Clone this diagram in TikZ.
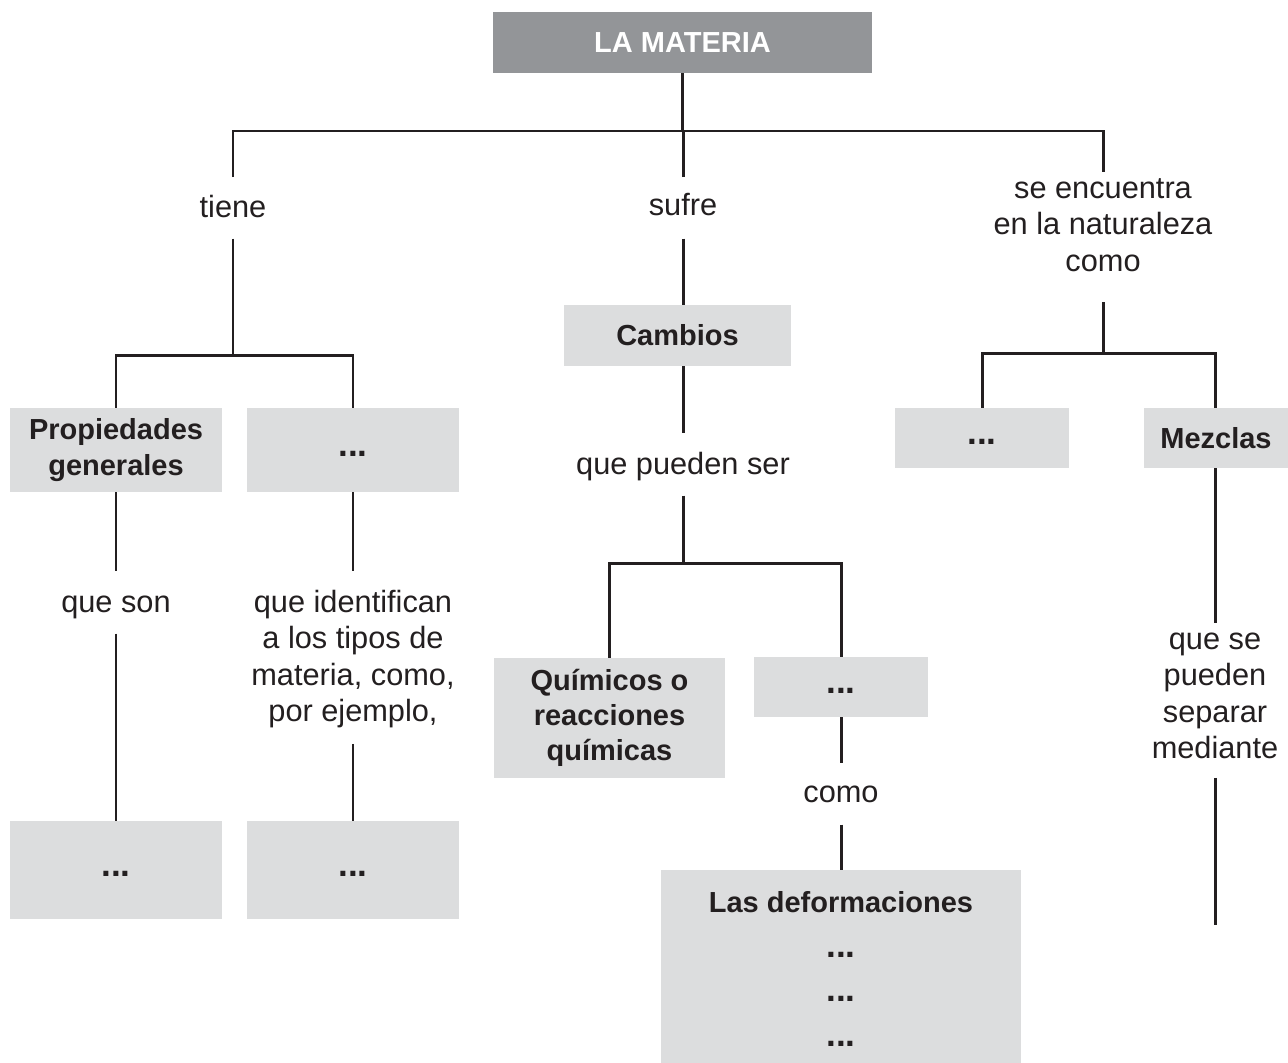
\documentclass[tikz,border=0pt]{standalone}
\usepackage{fontspec}
\setmainfont{Liberation Sans}
\usepackage{tikz}
\usetikzlibrary{positioning, calc}

\definecolor{topgray}{HTML}{939598}
\definecolor{boxgray}{HTML}{DCDDDE}
\definecolor{ink}{HTML}{231F20}

% struts that fix the gap between a label and its lines
\newcommand{\gapup}[1]{\rule{0pt}{#1}}
\newcommand{\gapdn}[1]{\rule[-#1]{0pt}{#1}}
% the blank to fill in
\newcommand{\moredots}{\vphantom{Ag}{\fontsize{20pt}{20pt}\selectfont...}}

\begin{document}
\begin{tikzpicture}[
                x=0.02cm, y=-0.02cm,
                title/.style={fill=topgray, text=white, inner sep=0pt,
                    font=\fontsize{16.5pt}{20pt}\selectfont\bfseries},
                box/.style={fill=boxgray, text=ink, inner sep=0pt, align=center,
                    font=\fontsize{16.5pt}{20pt}\selectfont\bfseries},
                lbl/.style={text=ink, inner sep=0pt, align=center, anchor=north,
                    font=\fontsize{17.5pt}{20.7pt}\selectfont},
                link/.style={draw=ink, line width=1.7pt},
            ]

                \useasboundingbox[fill=white] (0,0) rectangle (1288,1062);

                % Top
                \node[title, minimum width=7.58cm, minimum height=1.22cm] (mat) at (682.5,42.5) {LA MATERIA};
                \node[lbl] (tiene) at (233,177) {\gapup{0.8cm}tiene\gapdn{0.42cm}};
                \node[lbl] (sufre) at (683,177) {\gapup{0.76cm}sufre\gapdn{0.46cm}};
                \node[lbl] (seenc) at (1103,172) {\gapup{0.52cm}se encuentra\\en la naturaleza\\como\gapdn{0.62cm}};

                % Left branch
                \node[box, minimum width=4.24cm, minimum height=1.68cm] (props) at (116,450) {Propiedades\\generales};
                \node[box, minimum width=4.24cm, minimum height=1.68cm] (otros1) at (353,450) {\moredots};
                \node[lbl] (queson) at (116,571) {\gapup{0.82cm}que son\gapdn{0.42cm}};
                \node[lbl] (queident) at (353,571) {\gapup{0.82cm}que identifican\\a los tipos de\\materia, como,\\por ejemplo,\gapdn{0.44cm}};
                \node[box, minimum width=4.24cm, minimum height=1.96cm] (dots1) at (116,870) {\moredots};
                \node[box, minimum width=4.24cm, minimum height=1.96cm] (dots2) at (353,870) {\moredots};

                % Middle branch
                \node[box, minimum width=4.54cm, minimum height=1.22cm] (cambios) at (677.5,335.5) {Cambios};
                \node[lbl] (quepueden) at (683,433) {\gapup{0.82cm}que pueden ser\gapdn{0.42cm}};
                \node[box, minimum width=4.62cm, minimum height=2.4cm] (quimicos) at (609.5,718) {Químicos o\\reacciones\\químicas};
                \node[box, minimum width=3.5cm, minimum height=1.2cm] (otros3) at (841,687) {\moredots};
                \node[lbl] (como) at (841,763) {\gapup{0.78cm}como\gapdn{0.44cm}};
                \node[box, minimum width=7.2cm, minimum height=4.08cm,
                      font=\fontsize{16.5pt}{25.5pt}\selectfont\bfseries] (deform) at (841,972) {Las deformaciones\\\moredots\\\moredots\\\moredots};

                % Right branch
                \node[box, minimum width=3.48cm, minimum height=1.2cm] (otros4) at (982,438) {\moredots};
                \node[box, minimum width=2.9cm, minimum height=1.2cm] (mezclas) at (1216,438) {Mezclas};
                \node[lbl] (sep) at (1215,623) {\gapup{0.52cm}que se\\pueden\\separar\\mediante\gapdn{0.38cm}};

                % Connectors
                \coordinate (j1) at (683,131);
                \coordinate (j2) at (233,355);
                \coordinate (j3) at (683,563);
                \coordinate (j4) at (1103,353);
                \coordinate (mezend) at (1215,925);

                \draw[link] (mat.south) -- (mat.south |- j1);
                \draw[link] (tiene.north) |- (j1) -| (seenc.north);
                \draw[link] (sufre.north) -- (j1);

                \draw[link] (tiene.south) -- (j2);
                \draw[link] (props.north) |- (j2) -| (otros1.north);
                \draw[link] (props.south) -- (queson.north);
                \draw[link] (queson.south) -- (dots1.north);
                \draw[link] (otros1.south) -- (queident.north);
                \draw[link] (queident.south) -- (dots2.north);

                \draw[link] (sufre.south) -- (sufre.south |- cambios.north);
                \draw[link] (cambios.south -| quepueden) -- (quepueden.north);
                \draw[link] (quepueden.south) -- (j3);
                \draw[link] (quimicos.north) |- (j3) -| (otros3.north);
                \draw[link] (otros3.south) -- (como.north);
                \draw[link] (como.south) -- (deform.north);

                \draw[link] (seenc.south) -- (j4);
                \draw[link] (otros4.north) |- (j4) -| (sep.north |- otros4.north);
                \draw[link] (mezclas.south -| sep) -- (sep.north);
                \draw[link] (sep.south) -- (mezend);
            \end{tikzpicture}
\end{document}
